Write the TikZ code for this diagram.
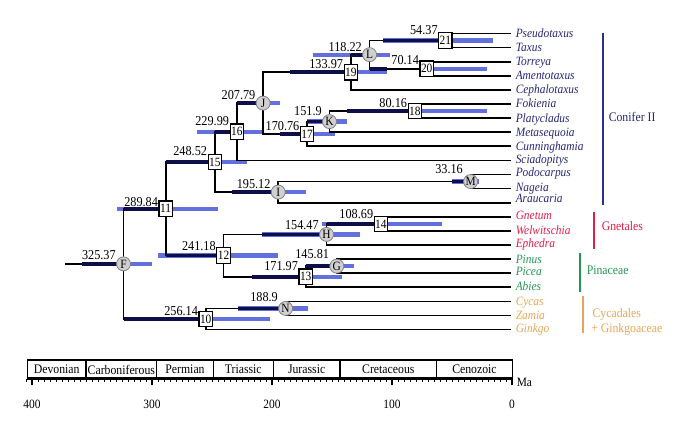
\documentclass[tikz,border=0pt]{standalone}
\usepackage{fontspec}
\setmainfont{Liberation Serif}[FakeStretch=0.9]
\definecolor{navyT}{RGB}{38,38,120}
\definecolor{navyB}{RGB}{45,45,145}
\definecolor{gnRed}{RGB}{228,28,72}
\definecolor{pnGreen}{RGB}{35,150,85}
\definecolor{cyOrange}{RGB}{232,165,85}
\definecolor{lightbar}{RGB}{98,112,222}
\definecolor{darkseg}{RGB}{14,14,72}
\definecolor{cfill}{RGB}{208,208,208}
\definecolor{cdraw}{RGB}{130,130,130}
\pgfdeclarelayer{bars}
\pgfdeclarelayer{lines}
\pgfdeclarelayer{dark}
\pgfsetlayers{bars,lines,dark,main}
\begin{document}
\begin{tikzpicture}[x=0.75pt,y=-0.75pt,
  circ/.style={circle, fill=cfill, draw=cdraw, line width=0.6pt, minimum size=10.5pt, inner sep=0pt, font=\fontsize{9.5}{9.5}\selectfont},
  sq/.style={rectangle, fill=white, draw=black, line width=0.9pt, minimum width=10pt, minimum height=11.5pt, inner sep=0pt, font=\fontsize{9.5}{9.5}\selectfont},
  num/.style={anchor=base east, inner sep=0pt, font=\fontsize{10.2}{10.2}\selectfont},
  br/.style={line width=1.25pt, black},
  lb/.style={line width=3.2pt, lightbar},
  dk/.style={line width=2.8pt, darkseg},
  taxon/.style={anchor=base west, inner sep=0pt, font=\fontsize{9.5}{9.5}\selectfont\itshape},
  grp/.style={anchor=west, inner sep=0pt, font=\fontsize{9.8}{10.7}\selectfont, align=left},
  per/.style={inner sep=0pt, font=\fontsize{9.8}{9.8}\selectfont},
  axn/.style={inner sep=0pt, font=\fontsize{9.5}{9.5}\selectfont}]
\useasboundingbox (0,0) rectangle (676,422);

% node markers
\node[circ] (F) at (123.5,263.85) {F};
\node[sq] (n11) at (165.7,208.7) {11};
\node[sq] (n12) at (223.5,255.55) {12};
\node[sq] (n10) at (205.7,319) {10};
\node[sq] (n15) at (214.8,161.9) {15};
\node[sq] (n16) at (236.8,131.75) {16};
\node[circ] (J) at (263.1,103.1) {J};
\node[circ] (I) at (278.2,192.1) {I};
\node[circ] (M) at (470.6,181.55) {M};
\node[sq] (n19) at (350.8,72.3) {19};
\node[circ] (L) at (369.6,54.65) {L};
\node[sq] (n21) at (445.4,40.55) {21};
\node[sq] (n20) at (426.7,68.75) {20};
\node[sq] (n18) at (414.8,111.05) {18};
\node[circ] (K) at (329.5,121.6) {K};
\node[sq] (n17) at (307.1,133.95) {17};
\node[circ] (H) at (326.5,234.4) {H};
\node[sq] (n14) at (380.9,223.85) {14};
\node[circ] (G) at (336.8,266.15) {G};
\node[sq] (n13) at (305.7,276.7) {13};
\node[circ] (N) at (285.6,308.45) {N};

% age labels
\node[num] (aF) at (116,259.4) {325.37};
\node[num] (a11) at (158.2,206) {289.84};
\node[num] (a12) at (216,250.7) {241.18};
\node[num] (a10) at (198.2,315) {256.14};
\node[num] (a15) at (207.3,155) {248.52};
\node[num] (a16) at (229.3,125.2) {229.99};
\node[num] (aJ) at (255.6,99.3) {207.79};
\node[num] (aI) at (270.7,188.3) {195.12};
\node[num] (aM) at (463.1,173.4) {33.16};
\node[num] (a19) at (343.3,68.5) {133.97};
\node[num] (aL) at (362.1,51.7) {118.22};
\node[num] (a21) at (437.9,34.4) {54.37};
\node[num] (a20) at (419.2,64.4) {70.14};
\node[num] (a18) at (407.3,107.8) {80.16};
\node[num] (aK) at (322,115) {151.9};
\node[num] (a17) at (299.6,130) {170.76};
\node[num] (aH) at (319,229.4) {154.47};
\node[num] (a14) at (373.4,218.4) {108.69};
\node[num] (aG) at (329.3,258.4) {145.81};
\node[num] (a13) at (298.2,270) {171.97};
\node[num] (aN) at (278.1,301.7) {188.9};

% tips
\coordinate (root) at (65,263.85);
\coordinate (t0) at (511,33.5);
\coordinate (t1) at (511,47.6);
\coordinate (t2) at (511,61.7);
\coordinate (t3) at (511,75.8);
\coordinate (t4) at (511,89.9);
\coordinate (t5) at (511,104.0);
\coordinate (t6) at (511,118.1);
\coordinate (t7) at (511,132.2);
\coordinate (t8) at (511,146.3);
\coordinate (t9) at (511,160.4);
\coordinate (t10) at (511,174.5);
\coordinate (t11) at (511,188.6);
\coordinate (t12) at (511,202.7);
\coordinate (t13) at (511,216.8);
\coordinate (t14) at (511,230.9);
\coordinate (t15) at (511,245.0);
\coordinate (t16) at (511,259.1);
\coordinate (t17) at (511,273.2);
\coordinate (t18) at (511,287.3);
\coordinate (t19) at (511,301.4);
\coordinate (t20) at (511,315.5);
\coordinate (t21) at (511,329.6);

% taxon labels
\node[taxon, text=navyT] (x0) at (515.5,37.5) {Pseudotaxus};
\node[taxon, text=navyT] (x1) at (515.5,51.6) {Taxus};
\node[taxon, text=navyT] (x2) at (515.5,65.7) {Torreya};
\node[taxon, text=navyT] (x3) at (515.5,79.8) {Amentotaxus};
\node[taxon, text=navyT] (x4) at (515.5,93.9) {Cephalotaxus};
\node[taxon, text=navyT] (x5) at (515.5,107.5) {Fokienia};
\node[taxon, text=navyT] (x6) at (515.5,122.1) {Platycladus};
\node[taxon, text=navyT] (x7) at (515.5,136) {Metasequoia};
\node[taxon, text=navyT] (x8) at (515.5,150.3) {Cunninghamia};
\node[taxon, text=navyT] (x9) at (515.5,163.5) {Sciadopitys};
\node[taxon, text=navyT] (x10) at (515.5,176.8) {Podocarpus};
\node[taxon, text=navyT] (x11) at (515.5,191) {Nageia};
\node[taxon, text=navyT] (x12) at (515.5,202.5) {Araucaria};
\node[taxon, text=gnRed] (x13) at (515.5,219.5) {Gnetum};
\node[taxon, text=gnRed] (x14) at (515.5,234.5) {Welwitschia};
\node[taxon, text=gnRed] (x15) at (515.5,247.5) {Ephedra};
\node[taxon, text=pnGreen] (x16) at (515.5,263) {Pinus};
\node[taxon, text=pnGreen] (x17) at (515.5,275.8) {Picea};
\node[taxon, text=pnGreen] (x18) at (515.5,290) {Abies};
\node[taxon, text=cyOrange] (x19) at (515.5,305.5) {Cycas};
\node[taxon, text=cyOrange] (x20) at (515.5,319) {Zamia};
\node[taxon, text=cyOrange] (x21) at (515.5,332.5) {Ginkgo};

% branches
\begin{pgfonlayer}{lines}
\draw[br] (root) -- (F.center);
\draw[br] (F.center) |- (n11.center);
\draw[br] (F.center) |- (n10.center);
\draw[br] (n11.center) |- (n15.center);
\draw[br] (n11.center) |- (n12.center);
\draw[br] (n15.center) |- (n16.center);
\draw[br] (n15.center) |- (I.center);
\draw[br] (n16.center) |- (J.center);
\draw[br] (n16.center) |- (t9);
\draw[br] (J.center) |- (n19.center);
\draw[br] (J.center) |- (n17.center);
\draw[br] (n19.center) |- (L.center);
\draw[br] (n19.center) |- (t4);
\draw[br] (L.center) |- (n21.center);
\draw[br] (L.center) |- (n20.center);
\draw[br] (n21.center) |- (t0);
\draw[br] (n21.center) |- (t1);
\draw[br] (n20.center) |- (t2);
\draw[br] (n20.center) |- (t3);
\draw[br] (n17.center) |- (K.center);
\draw[br] (n17.center) |- (t8);
\draw[br] (K.center) |- (n18.center);
\draw[br] (K.center) |- (t7);
\draw[br] (n18.center) |- (t5);
\draw[br] (n18.center) |- (t6);
\draw[br] (I.center) |- (M.center);
\draw[br] (I.center) |- (t12);
\draw[br] (M.center) |- (t10);
\draw[br] (M.center) |- (t11);
\draw[br] (n12.center) |- (H.center);
\draw[br] (n12.center) |- (n13.center);
\draw[br] (H.center) |- (n14.center);
\draw[br] (H.center) |- (t15);
\draw[br] (n14.center) |- (t13);
\draw[br] (n14.center) |- (t14);
\draw[br] (n13.center) |- (G.center);
\draw[br] (n13.center) |- (t18);
\draw[br] (G.center) |- (t16);
\draw[br] (G.center) |- (t17);
\draw[br] (n10.center) |- (N.center);
\draw[br] (n10.center) |- (t21);
\draw[br] (N.center) |- (t19);
\draw[br] (N.center) |- (t20);
\end{pgfonlayer}

% HPD bars (light)
\begin{pgfonlayer}{bars}
\draw[lb] (82,263.85) -- (152,263.85);
\draw[lb] (117,208.7) -- (218,208.7);
\draw[lb] (158,255.55) -- (278,255.55);
\draw[lb] (123.5,319) -- (270,319);
\draw[lb] (165.7,161.9) -- (247,161.9);
\draw[lb] (197,131.75) -- (262,131.75);
\draw[lb] (236.8,103.1) -- (280,103.1);
\draw[lb] (232,192.1) -- (306,192.1);
\draw[lb] (452,181.55) -- (479,181.55);
\draw[lb] (290,72.3) -- (387,72.3);
\draw[lb] (313,54.65) -- (390,54.65);
\draw[lb] (383,40.55) -- (493,40.55);
\draw[lb] (426.7,68.75) -- (487,68.75);
\draw[lb] (347,111.05) -- (487,111.05);
\draw[lb] (307.1,121.6) -- (347,121.6);
\draw[lb] (280,133.95) -- (335,133.95);
\draw[lb] (262,234.4) -- (360,234.4);
\draw[lb] (322,223.85) -- (442,223.85);
\draw[lb] (305.7,266.15) -- (354,266.15);
\draw[lb] (252,276.7) -- (342,276.7);
\draw[lb] (238,308.45) -- (308,308.45);
\end{pgfonlayer}

% HPD parts on branches (dark)
\begin{pgfonlayer}{dark}
\draw[dk] (82,263.85) -- (F.center);
\draw[dk] (123.5,208.7) -- (n11.center);
\draw[dk] (165.7,255.55) -- (n12.center);
\draw[dk] (123.5,319) -- (n10.center);
\draw[dk] (165.7,161.9) -- (n15.center);
\draw[dk] (214.8,131.75) -- (n16.center);
\draw[dk] (236.8,103.1) -- (J.center);
\draw[dk] (232,192.1) -- (I.center);
\draw[dk] (452,181.55) -- (M.center);
\draw[dk] (290,72.3) -- (n19.center);
\draw[dk] (350.8,54.65) -- (L.center);
\draw[dk] (383,40.55) -- (n21.center);
\draw[dk] (369.6,68.75) -- (387,68.75);
\draw[dk] (347,111.05) -- (n18.center);
\draw[dk] (307.1,121.6) -- (K.center);
\draw[dk] (280,133.95) -- (n17.center);
\draw[dk] (262,234.4) -- (H.center);
\draw[dk] (326.5,223.85) -- (n14.center);
\draw[dk] (305.7,266.15) -- (G.center);
\draw[dk] (252,276.7) -- (n13.center);
\draw[dk] (238,308.45) -- (N.center);
\end{pgfonlayer}

% group bars and labels
\draw[line width=1.6pt, navyB] (603.3,33.3) -- (603.3,205);
\node[grp, text=navyT] (gC) at (608.5,116.7) {Conifer II};
\draw[line width=1.6pt, gnRed] (594,211.7) -- (594,249.3);
\node[grp, text=gnRed] (gG) at (601.5,225.7) {Gnetales};
\draw[line width=1.6pt, pnGreen] (580,253.3) -- (580,291.7);
\node[grp, text=pnGreen] (gP) at (586.5,270) {Pinaceae};
\draw[line width=1.6pt, cyOrange] (583.3,296) -- (583.3,333.3);
\node[grp, text=cyOrange] (gY) at (591,322) {\hspace*{1pt}Cycadales\\+ Ginkgoaceae};

% time scale
\draw[line width=0.9pt] (27.3,360) rectangle (512.3,378.5);
\foreach \d in {86,156.7,213.3,273.3,340,436.7}
  \draw[line width=0.9pt] (\d,360) -- (\d,378.5);
\draw[line width=2pt] (27.3,378.5) -- (512.3,378.5);
\foreach \a in {0,5,...,405}
  \draw[line width=0.6pt] ({512-1.2*\a},378.5) -- ++(0,3.5);
\foreach \a in {0,100,...,400}
  \draw[line width=1pt] ({512-1.2*\a},378.5) -- ++(0,6);
\node[per] (pD) at (56.65,369.5) {Devonian};
\node[per] (pC) at (121.35,369.5) {Carboniferous};
\node[per] (pP) at (185,369.5) {Permian};
\node[per] (pT) at (243.3,369.5) {Triassic};
\node[per] (pJ) at (306.65,369.5) {Jurassic};
\node[per] (pK) at (388.35,369.5) {Cretaceous};
\node[per] (pZ) at (474.5,369.5) {Cenozoic};
\foreach \a in {0,100,...,400}
  \node[axn] (ax\a) at ({512-1.2*\a},404) {\a};
\node[axn, anchor=west] (ma) at (516.5,382) {Ma};
\end{tikzpicture}
\end{document}
